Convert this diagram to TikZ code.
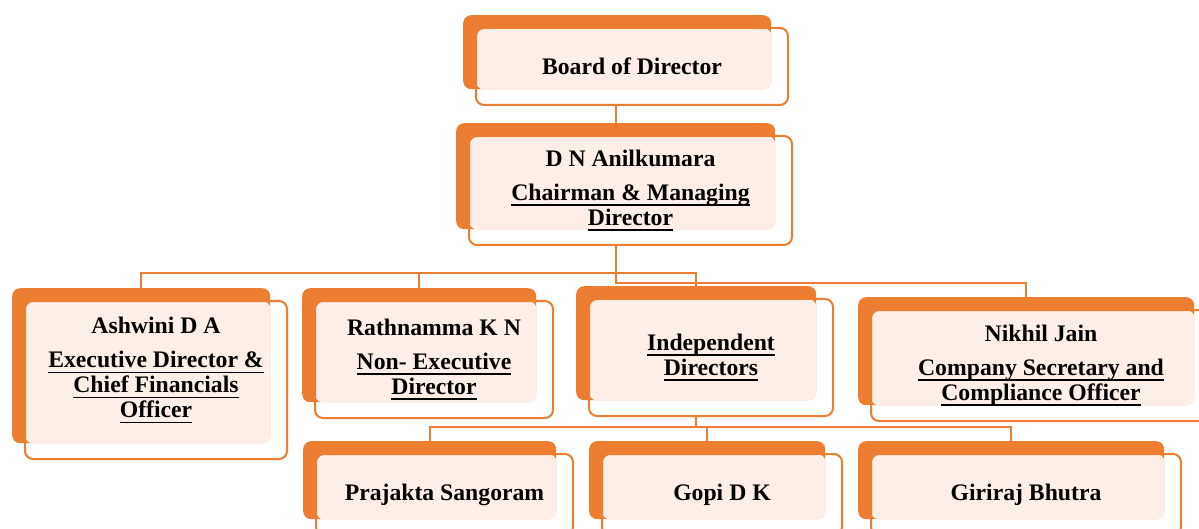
\documentclass[tikz,border=0pt]{standalone}
\usepackage{fontspec}
\setmainfont{Liberation Serif}
\usetikzlibrary{calc}
\definecolor{boxorange}{HTML}{ED7D31}
\definecolor{boxpeach}{HTML}{FDEFE7}
\newcommand{\uln}[1]{\setbox0\hbox{#1}\rlap{\rule[-5.5pt]{\wd0}{1.5pt}}\box0}

\begin{document}
\begin{tikzpicture}[x=1pt,y=-1pt,
    backbox/.style={fill=boxorange,rounded corners=8pt,inner sep=0pt,anchor=north west},
    frontbox/.style={draw=boxorange,line width=2pt,rounded corners=8pt,inner sep=0pt,anchor=north west,align=center,font=\bfseries\fontsize{23.7}{25}\selectfont},
    link/.style={draw=boxorange,line width=2pt}]
  \useasboundingbox (0,0) rectangle (1199,529);
  % boxes: name / front corner / width / height / text
  \foreach \n/\x/\y/\w/\h/\txt in {
      board/475/27/312/77/{Board of Director},
      chair/468/135/323/109/{D N Anilkumara\\[9pt]\uln{Chairman \& Managing}\\\uln{Director}},
      ashwini/24/300/262/158/{Ashwini D A\\[9pt]\uln{Executive Director \&}\\\uln{Chief Financials}\\\uln{Officer}\\\mbox{}},
      rath/314/300/238/117/{Rathnamma K N\\[9pt]\uln{Non- Executive}\\\uln{Director}},
      indep/588/298/244/117/{\uln{Independent}\\\uln{Directors}},
      nikhil/870/309/340/111/{Nikhil Jain\\[9pt]\uln{Company Secretary and}\\\uln{Compliance Officer}},
      praj/315/453/257/81/{Prajakta Sangoram},
      gopi/601/453/240/81/{Gopi D K},
      giri/870/453/310/81/{Giriraj Bhutra}}{
    \node[backbox,minimum width=\w-4,minimum height=\h-3] (\n-b) at (\x-12,\y-12) {};
    \fill[boxpeach,rounded corners=8pt] (\x+1,\y+1) rectangle (\n-b.south east);
    \node[frontbox,minimum width=\w,minimum height=\h] (\n) at (\x,\y) {\txt};
  }
  % bus lines
  \coordinate (busa) at (0,273);
  \coordinate (busb) at (0,283);
  \coordinate (busc) at (0,427);
  \draw[link] (chair-b.north) -- (chair-b.north |- board.south);
  \draw[link] (chair-b.south |- chair.south) -- (chair-b.south |- busb) -| (nikhil-b.north);
  \draw[link] (ashwini-b.north) |- (indep-b.north |- busa) -- (indep-b.north);
  \draw[link] (rath-b.north) -- (rath-b.north |- busa);
  \draw[link] (indep-b.south |- indep.south) -- (indep-b.south |- busc);
  \draw[link] (praj-b.north) |- (giri-b.north |- busc) -- (giri-b.north);
  \draw[link] (gopi-b.north) -- (gopi-b.north |- busc);
\end{tikzpicture}
\end{document}
